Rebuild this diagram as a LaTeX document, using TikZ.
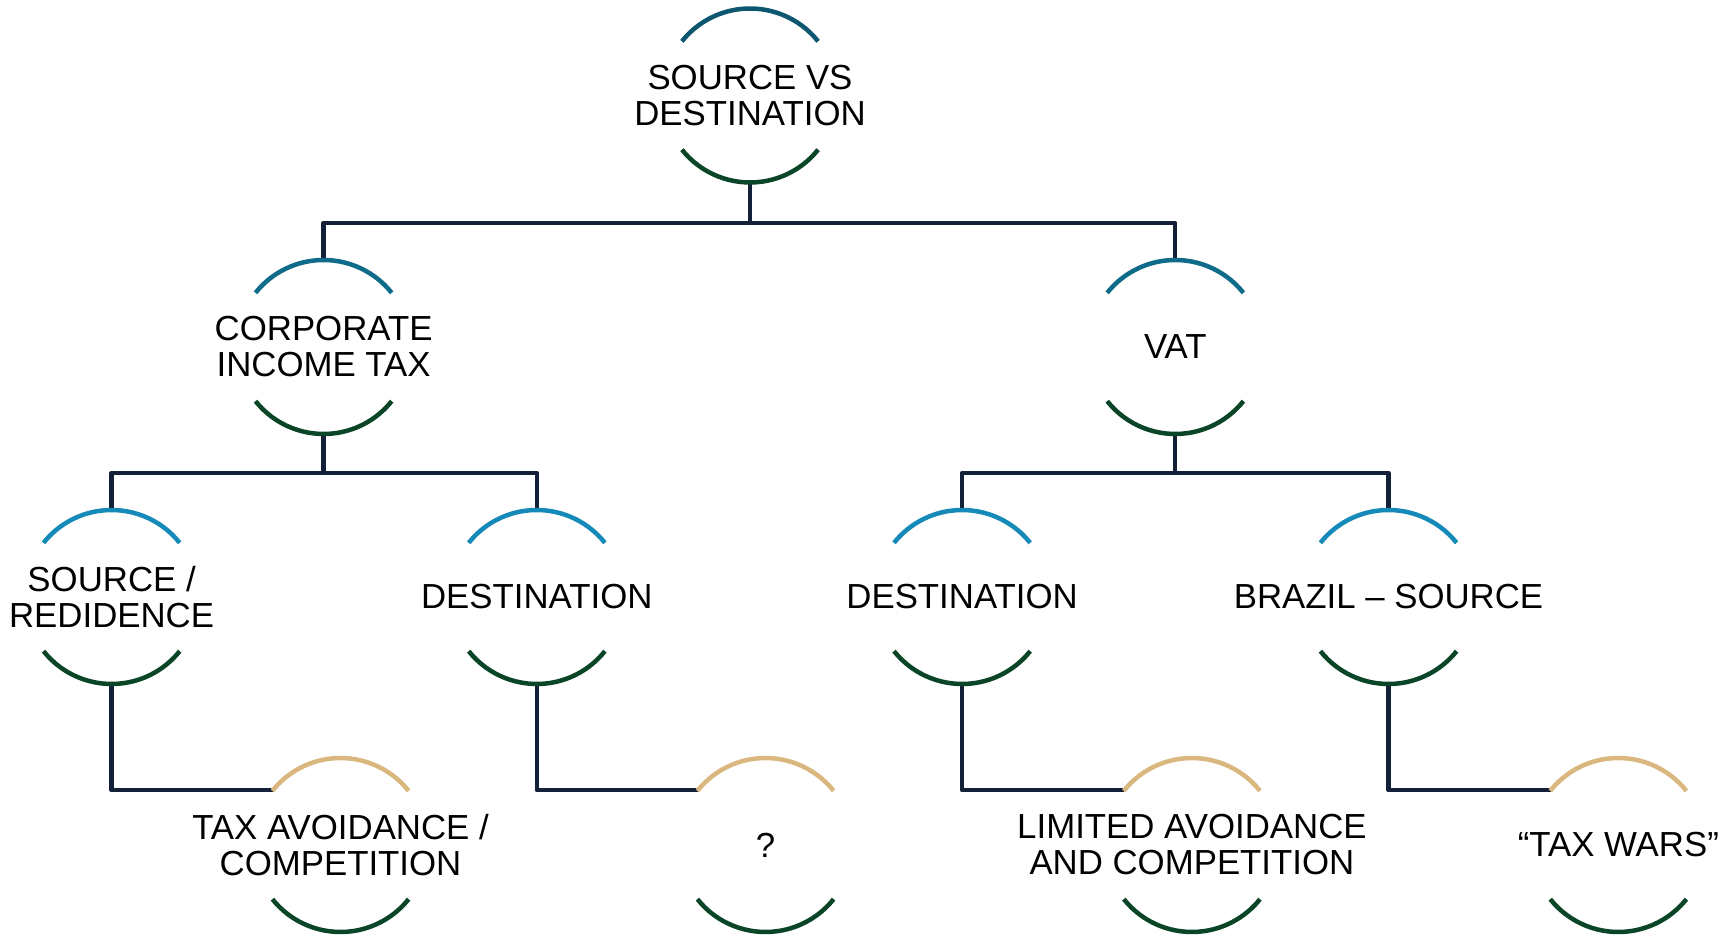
\documentclass[tikz,border=0pt]{standalone}
\usepackage{fontspec}
\setmainfont{Liberation Sans}
\definecolor{conncol}{HTML}{141F38}
\definecolor{botcol}{HTML}{0A4527}
\definecolor{topA}{HTML}{0D5670}
\definecolor{topB}{HTML}{0E6B8A}
\definecolor{topC}{HTML}{1589B8}
\definecolor{topD}{HTML}{D9B77E}
\begin{document}
\begin{tikzpicture}[x=1pt,y=1pt,
  ring/.style={circle,minimum size=174pt,inner sep=0pt,outer sep=0pt},
  lbl/.style={align=center,font=\fontsize{34.8}{36}\selectfont,text=black,inner sep=0pt},
  conn/.style={draw=conncol,line width=4.3pt,line join=round},
  arcline/.style={line width=4.5pt}]
\useasboundingbox (0,0) rectangle (1732,936);
\newcommand{\ringarcs}[2]{%
  \draw[arcline,draw=#2] (#1) ++(38.5:87) arc[start angle=38.5,end angle=141.5,radius=87];
  \draw[arcline,draw=botcol] (#1) ++(218.5:87) arc[start angle=218.5,end angle=321.5,radius=87];}
% nodes
\node[ring] (top) at (750,840.5) {};
\node[ring] (cit) at (323.6,589) {};
\node[ring] (vat) at (1175.3,589) {};
\node[ring] (sr) at (111.6,339) {};
\node[ring] (d1) at (536.8,339) {};
\node[ring] (d2) at (962.1,339) {};
\node[ring] (br) at (1388.5,339) {};
\node[ring] (l1) at (340.5,91) {};
\node[ring] (l2) at (765.5,91) {};
\node[ring] (l3) at (1191.9,91) {};
\node[ring] (l4) at (1618.3,91) {};
% labels
\node[lbl] (ttop) at (top) {SOURCE VS\\DESTINATION};
\node[lbl] (tcit) at (cit) {CORPORATE\\INCOME TAX};
\node[lbl] (tvat) at (vat) {VAT};
\node[lbl] (tsr) at (sr) {SOURCE /\\REDIDENCE};
\node[lbl] (td1) at (d1) {DESTINATION};
\node[lbl] (td2) at (d2) {DESTINATION};
\node[lbl] (tbr) at (br) {BRAZIL – SOURCE};
\node[lbl] (tl1) at (l1) {TAX AVOIDANCE /\\COMPETITION};
\node[lbl] (tl2) at (l2) {?};
\node[lbl] (tl3) at (l3) {LIMITED AVOIDANCE\\AND COMPETITION};
\node[lbl] (tl4) at (l4) {“TAX WARS”};
% connectors
\coordinate (b1) at (750,713);
\coordinate (b2) at (323.6,463);
\coordinate (b3) at (1175.3,463);
\draw[conn] (top.south) -- (b1);
\draw[conn] (cit.north) |- (b1) -| (vat.north);
\draw[conn] (cit.south) -- (b2);
\draw[conn] (sr.north) |- (b2) -| (d1.north);
\draw[conn] (vat.south) -- (b3);
\draw[conn] (d2.north) |- (b3) -| (br.north);
\draw[conn] (sr.south) |- (l1.141.5);
\draw[conn] (d1.south) |- (l2.141.5);
\draw[conn] (d2.south) |- (l3.141.5);
\draw[conn] (br.south) |- (l4.141.5);
% arcs
\ringarcs{top}{topA}
\ringarcs{cit}{topB}
\ringarcs{vat}{topB}
\ringarcs{sr}{topC}
\ringarcs{d1}{topC}
\ringarcs{d2}{topC}
\ringarcs{br}{topC}
\ringarcs{l1}{topD}
\ringarcs{l2}{topD}
\ringarcs{l3}{topD}
\ringarcs{l4}{topD}
\end{tikzpicture}
\end{document}
